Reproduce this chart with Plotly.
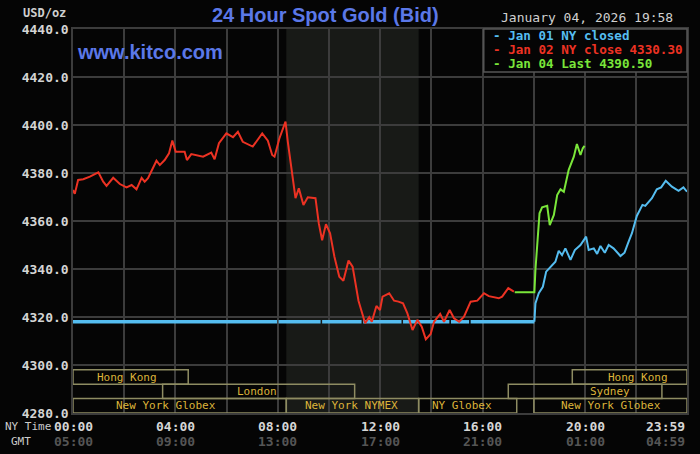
import plotly.graph_objects as go

# hours since 00:00 NY time
RED_HOURS = [0.0, 0.07, 0.2, 0.4, 0.66, 0.99, 1.18, 1.31, 1.57, 1.83, 2.09, 2.29, 2.48, 2.68, 2.8, 2.93,
             3.26, 3.39, 3.58, 3.75, 3.88, 4.01, 4.36, 4.45, 4.62, 5.08, 5.4, 5.53, 5.7, 5.99, 6.25, 6.44,
             6.63, 7.02, 7.39, 7.61, 7.78, 7.87, 8.06, 8.3, 8.39, 8.56, 8.69, 8.82, 9.0, 9.17, 9.47, 9.6,
             9.73, 9.88, 10.04, 10.21, 10.4, 10.56, 10.76, 10.92, 11.15, 11.41, 11.57, 11.67, 11.85, 11.99,
             12.09, 12.35, 12.54, 12.71, 12.89, 13.06, 13.26, 13.45, 13.62, 13.78, 13.97, 14.1, 14.34, 14.49,
             14.71, 14.88, 15.08, 15.27, 15.53, 15.79, 16.05, 16.24, 16.63, 16.76, 17.0, 17.22]
RED_VALUES = [4372.9, 4371.3, 4377.1, 4377.4, 4378.5, 4380.3, 4376.4, 4374.6, 4378.0, 4375.4, 4374.0, 4375.0,
              4373.2, 4378.0, 4376.4, 4377.8, 4385.1, 4383.3, 4385.4, 4388.2, 4393.5, 4388.9, 4388.9, 4385.4,
              4387.9, 4386.8, 4388.5, 4385.7, 4392.4, 4396.5, 4394.9, 4397.2, 4393.0, 4391.0, 4396.5, 4393.5,
              4387.5, 4386.8, 4394.4, 4401.4, 4393.0, 4378.5, 4369.5, 4373.6, 4366.7, 4369.9, 4369.5, 4359.0,
              4352.0, 4358.7, 4354.9, 4345.1, 4336.8, 4335.1, 4343.5, 4341.0, 4326.8, 4317.4, 4319.9, 4318.0,
              4324.6, 4322.9, 4328.5, 4329.9, 4326.8, 4326.4, 4325.7, 4321.5, 4314.6, 4318.8, 4316.0, 4310.7,
              4312.9, 4318.0, 4321.3, 4318.0, 4322.9, 4319.5, 4318.0, 4320.1, 4326.4, 4326.8, 4329.9, 4328.7,
              4327.8, 4328.5, 4332.0, 4330.6]

GREEN_HOURS = [17.25, 18.02, 18.06, 18.13, 18.22, 18.32, 18.52, 18.62, 18.78, 18.91, 19.04, 19.17, 19.36,
               19.56, 19.68, 19.82, 19.91, 19.98]
GREEN_VALUES = [4330.3, 4330.3, 4339.6, 4349.3, 4363.2, 4365.7, 4366.3, 4358.3, 4362.5, 4370.8, 4373.2,
                4372.2, 4381.3, 4386.8, 4392.1, 4387.5, 4390.3, 4391.3]

# Jan 01 (closed): flat segments with small data gaps, then the evening session
BLUE_FLAT_HOURS = [0.0, 7.97, None, 8.03, 9.67, None, 9.73, 11.27, None, 11.33, 12.83, None,
                   12.89, 14.7, None, 14.76, 15.47, None, 15.53, 18.02]
BLUE_FLAT_VALUES = [4318.0, 4318.0, None, 4318.0, 4318.0, None, 4318.0, 4318.0, None, 4318.0, 4318.0, None,
                    4318.0, 4318.0, None, 4318.0, 4318.0, None, 4318.0, 4318.0]
BLUE_HOURS = [18.02, 18.06, 18.19, 18.35, 18.48, 18.65, 18.84, 18.97, 19.1, 19.23, 19.43, 19.6, 19.82, 20.04,
              20.14, 20.34, 20.47, 20.6, 20.77, 20.92, 21.11, 21.38, 21.54, 21.7, 21.83, 22.02, 22.24, 22.35,
              22.61, 22.8, 22.97, 23.15, 23.39, 23.65, 23.84, 23.98]
BLUE_VALUES = [4318.0, 4325.7, 4329.9, 4332.6, 4338.9, 4341.0, 4343.0, 4347.6, 4345.8, 4348.6, 4343.8, 4347.9,
               4350.0, 4353.5, 4347.9, 4348.6, 4346.3, 4349.6, 4346.8, 4350.0, 4348.6, 4345.4, 4346.8, 4351.4,
               4354.9, 4362.1, 4366.7, 4366.3, 4369.5, 4373.2, 4374.0, 4376.8, 4374.3, 4372.6, 4374.0, 4372.2]

SESSIONS = ["Hong Kong", "London", "New York Globex", "New York NYMEX", "NY Globex",
            "New York Globex", "Sydney", "Hong Kong"]
SESSION_START = [0.0, 3.5, 0.0, 8.33, 13.5, 18.0, 17.0, 19.5]
SESSION_END = [4.5, 11.0, 8.33, 13.5, 17.33, 23.98, 23.0, 23.98]
SESSION_ROW = [1, 2, 3, 3, 3, 3, 2, 1]
SESSION_LABEL_AT = [2.1, 7.17, 3.62, 10.87, 15.19, 21.0, 20.96, 22.05]

NY_TICKS = [0, 4, 8, 12, 16, 20, 23.98]
NY_LABELS = ["00:00", "04:00", "08:00", "12:00", "16:00", "20:00", "23:59"]
GMT_LABELS = ["05:00", "09:00", "13:00", "17:00", "21:00", "01:00", "04:59"]

LEGEND = ["Jan 01 NY closed", "Jan 02 NY close 4330.30", "Jan 04 Last 4390.50"]

BLUE = "#55bdf0"
RED = "#ec3223"
GREEN = "#7ae63a"
MONO = "DejaVu Sans Mono"
GRID = "#3c3c3c"

fig = go.Figure()
fig.add_trace(go.Scatter(x=BLUE_FLAT_HOURS, y=BLUE_FLAT_VALUES, mode="lines",
                         line=dict(color=BLUE, width=3.5), connectgaps=False))
fig.add_trace(go.Scatter(x=BLUE_HOURS, y=BLUE_VALUES, mode="lines", line=dict(color=BLUE, width=2)))
fig.add_trace(go.Scatter(x=RED_HOURS, y=RED_VALUES, mode="lines", line=dict(color=RED, width=2)))
fig.add_trace(go.Scatter(x=GREEN_HOURS, y=GREEN_VALUES, mode="lines", line=dict(color=GREEN, width=2)))

# NYMEX pit hours shading
fig.add_shape(type="rect", xref="x", yref="paper", x0=8.33, x1=13.5, y0=0, y1=1,
              fillcolor="#181a17", line_width=0, layer="below")

# market session boxes
for name, s, e, r, lx in zip(SESSIONS, SESSION_START, SESSION_END, SESSION_ROW, SESSION_LABEL_AT):
    top = 4298 - (r - 1) * 6
    fig.add_shape(type="rect", x0=s, x1=e, y0=top - 6, y1=top,
                  line=dict(color="#8e8c62", width=1.5), fillcolor="rgba(0,0,0,0)")
    fig.add_annotation(x=lx, y=top - 3, text=name, showarrow=False,
                       font=dict(family=MONO, size=11, color="#dcb43a"))

# time labels under the axis
for t, ny, gmt in zip(NY_TICKS, NY_LABELS, GMT_LABELS):
    anchor = "right" if ny == "23:59" else "center"
    fig.add_annotation(x=t, y=-0.034, xref="x", yref="paper", text="<b>" + ny + "</b>",
                       showarrow=False, xanchor=anchor, yanchor="middle",
                       font=dict(family=MONO, size=13, color="#d6d6d6"))
    fig.add_annotation(x=t, y=-0.073, xref="x", yref="paper", text="<b>" + gmt + "</b>",
                       showarrow=False, xanchor=anchor, yanchor="middle",
                       font=dict(family=MONO, size=13, color="#555555"))
fig.add_annotation(x=-0.114, y=-0.034, xref="paper", yref="paper", text="NY Time", showarrow=False,
                   xanchor="left", yanchor="middle", font=dict(family=MONO, size=11, color="#cccccc"))
fig.add_annotation(x=-0.085, y=-0.073, xref="paper", yref="paper", text="GMT", showarrow=False,
                   xanchor="center", yanchor="middle", font=dict(family=MONO, size=11, color="#cccccc"))

# headers
fig.add_annotation(x=0.412, y=1.036, xref="paper", yref="paper", text="<b>24 Hour Spot Gold (Bid)</b>",
                   showarrow=False, yanchor="middle",
                   font=dict(family="Liberation Sans", size=20, color="#5b78e8"))
fig.add_annotation(x=0.003, y=0.94, xref="paper", yref="paper", text="<b>www.kitco.com</b>",
                   showarrow=False, xanchor="left", yanchor="middle",
                   font=dict(family="Liberation Sans", size=20, color="#5b78e8"))
fig.add_annotation(x=-0.008, y=1.042, xref="paper", yref="paper", text="<b>USD/oz</b>",
                   showarrow=False, xanchor="right", yanchor="middle",
                   font=dict(family=MONO, size=12, color="#cfcfcf"))
fig.add_annotation(x=0.981, y=1.031, xref="paper", yref="paper", text="January 04, 2026 19:58",
                   showarrow=False, xanchor="right", yanchor="middle",
                   font=dict(family=MONO, size=13, color="#d0d0d0"))

# legend box
fig.add_shape(type="rect", xref="paper", yref="paper", x0=0.669, x1=1.0, y0=0.888, y1=1.0,
              fillcolor="#050505", line=dict(color="#555555", width=1.5), layer="above")
for i, (label, col) in enumerate(zip(LEGEND, [BLUE, RED, GREEN])):
    fig.add_annotation(x=0.68, y=0.984 - i * 0.037, xref="paper", yref="paper",
                       text="<b>- " + label + "</b>", showarrow=False, xanchor="left", yanchor="middle",
                       font=dict(family=MONO, size=12.6, color=col))

fig.update_layout(
    width=700, height=454,
    paper_bgcolor="#050505", plot_bgcolor="#050505",
    showlegend=False,
    margin=dict(l=73, r=11, t=29, b=41),
)
fig.update_xaxes(range=[0, 23.98], tickvals=list(range(0, 24, 2)), showticklabels=False,
                 showgrid=True, gridcolor=GRID, gridwidth=1.5, zeroline=False,
                 showline=True, linecolor=GRID, linewidth=1.5, mirror=True)
fig.update_yaxes(range=[4280, 4440], tickvals=list(range(4280, 4441, 20)), tickformat=".1f",
                 showgrid=True, gridcolor=GRID, gridwidth=1.5, zeroline=False,
                 showline=True, linecolor=GRID, linewidth=1.5, mirror=True,
                 tickfont=dict(family=MONO, size=13, color="#d4d4d4", weight="bold"))

# page body has a default margin; drop it so the 700x454 figure fills the window
fig.write_html("out.html", config={"displayModeBar": False},
               post_script="document.body.style.margin='0';")
